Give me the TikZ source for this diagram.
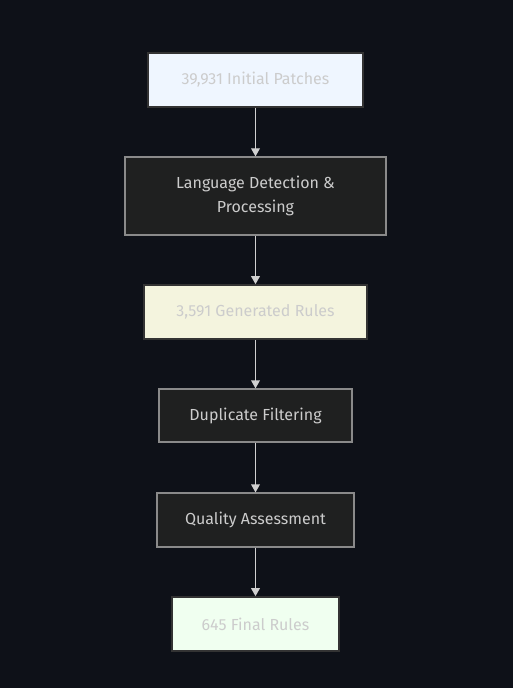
\documentclass[tikz,border=0pt]{standalone}
\usepackage{fontspec}
\setmainfont{Fira Sans}
\usepackage{xcolor}
\usetikzlibrary{positioning,arrows.meta}
\definecolor{bgdark}{HTML}{0E1118}
\definecolor{boxdark}{HTML}{1F2020}
\definecolor{edgegray}{HTML}{8A8A8A}
\definecolor{edgedark}{HTML}{333333}
\definecolor{txtlight}{HTML}{CCCCCC}
\definecolor{fillblue}{HTML}{EFF6FF}
\definecolor{fillbeige}{HTML}{F4F4DE}
\definecolor{fillgreen}{HTML}{F0FFF0}
\definecolor{linkgray}{HTML}{D0D0D0}

\begin{document}
\begin{tikzpicture}[x=0.75pt,y=-0.75pt,
  every node/.style={font=\fontsize{12}{18}\selectfont, inner sep=0pt, align=center},
  stage/.style={draw=edgegray, fill=boxdark, text=txtlight, line width=0.9pt},
  count/.style={draw=edgedark, fill=#1, text=txtlight, line width=1.2pt},
  link/.style={draw=linkgray, line width=0.9pt, -{Triangle[length=6pt,width=6.5pt]}}]
  \fill[bgdark] (0,0) rectangle (513,688);
  \useasboundingbox (0,0) rectangle (513,688);
  \node[count=fillblue, minimum width=161pt, minimum height=40.5pt] (patches) at (255.5,80) {39,931 Initial Patches};
  \node[stage, minimum width=195.75pt, minimum height=58.5pt] (langdet) at (255.5,196) {Language Detection \&\\Processing};
  \node[count=fillbeige, minimum width=167.25pt, minimum height=40.5pt] (genrules) at (255.5,312) {3,591 Generated Rules};
  \node[stage, minimum width=144.75pt, minimum height=39.75pt] (dupfilter) at (255.5,415.5) {Duplicate Filtering};
  \node[stage, minimum width=147.75pt, minimum height=40.5pt] (quality) at (255.5,520) {Quality Assessment};
  \node[count=fillgreen, minimum width=125.25pt, minimum height=40.5pt] (finalrules) at (255.5,624) {645 Final Rules};
  \draw[link] (patches) -- (langdet);
  \draw[link] (langdet) -- (genrules);
  \draw[link] (genrules) -- (dupfilter);
  \draw[link] (dupfilter) -- (quality);
  \draw[link] (quality) -- (finalrules);
\end{tikzpicture}
\end{document}
